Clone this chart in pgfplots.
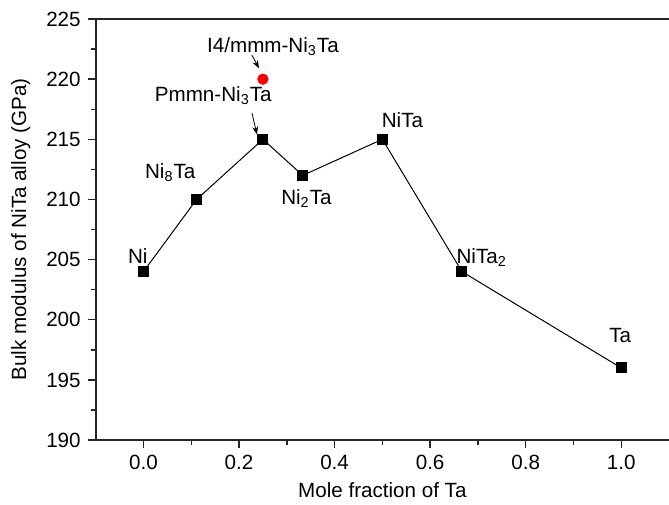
\documentclass[border=0pt]{standalone}
\usepackage{fontspec}
\setmainfont{Liberation Sans}
\usepackage{pgfplots}
\pgfplotsset{compat=1.18}
\usetikzlibrary{calc,arrows.meta}

\begin{document}
\begin{tikzpicture}
\begin{axis}[
  name=main,
  width=286.6pt, height=210.5pt, scale only axis,
  xmin=-0.1, xmax=1.1, ymin=190, ymax=225,
  axis x line*=bottom, axis y line*=left,
  axis line style={line width=0.8pt, black!85, -},
  xtick={0,0.2,...,1.0}, minor x tick num=1,
  ytick={190,195,...,225}, minor y tick num=1,
  tick align=outside, tick style={black!85, line width=0.7pt},
  major tick length=4pt, minor tick length=2.5pt,
  xticklabel style={/pgf/number format/.cd, fixed, fixed zerofill, precision=1},
  /pgf/number format/assume math mode=true,
  font=\fontsize{10.3}{12}\selectfont,
  xlabel={Mole fraction of Ta}, ylabel={Bulk modulus of NiTa alloy (GPa)},
  xlabel style={at={(axis description cs:0.5,0)}, anchor=center, yshift=-25pt},
  ylabel style={at={(axis description cs:0,0.5)}, anchor=center, yshift=37.5pt},
  clip=false,
]
\addplot[black, line width=0.5pt, mark=square*, mark size=2.5pt, mark options={solid}]
  coordinates {(0,204)(0.1111,210)(0.25,215)(0.3333,212)(0.5,215)(0.6667,204)(1.0,196)};
\addplot[only marks, mark=*, mark size=2.6pt, red] coordinates {(0.25,220)};
\node at (axis cs:-0.012,205.3) {Ni};
\node at (axis cs:0.056,212.2) {Ni\textsubscript{8}Ta};
\node at (axis cs:0.146,218.6) {Pmmn-Ni\textsubscript{3}Ta};
\node at (axis cs:0.271,222.7) {I4/mmm-Ni\textsubscript{3}Ta};
\node at (axis cs:0.341,210.1) {Ni\textsubscript{2}Ta};
\node at (axis cs:0.542,216.6) {NiTa};
\node at (axis cs:0.708,205.2) {NiTa\textsubscript{2}};
\node at (axis cs:0.998,198.7) {Ta};
\draw[-{Stealth[length=4pt,width=3pt]}, line width=0.4pt] (axis cs:0.227,217.2) -- (axis cs:0.2375,215.4);
\draw[-{Stealth[length=4pt,width=3pt]}, line width=0.4pt] (axis cs:0.227,222.0) -- (axis cs:0.2417,220.9);
\draw[line width=0.8pt, black!85] (rel axis cs:0,1) -- (rel axis cs:1,1);
\end{axis}
\pgfresetboundingbox
\path ($(main.south west)+(-47.85pt,-32pt)$) rectangle ($(main.north east)+(0pt,9.5pt)$);
\end{tikzpicture}
\end{document}
